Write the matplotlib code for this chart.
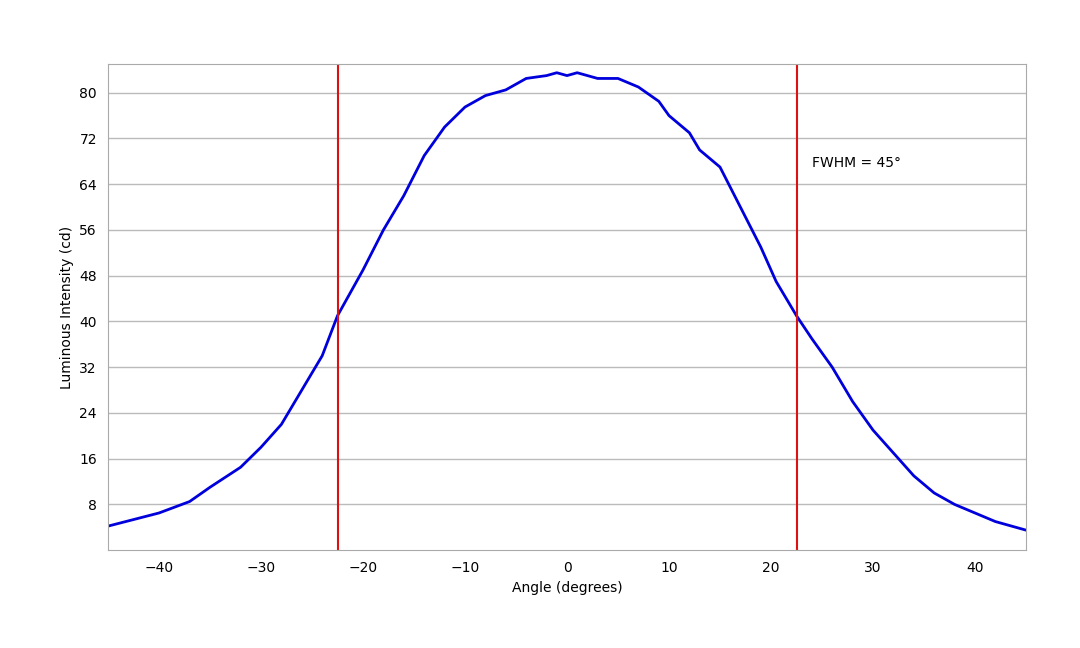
import matplotlib
matplotlib.use('Agg')
import numpy as np
import matplotlib.pyplot as plt

# angle (deg) vs luminous intensity (cd)
angle = [-45, -40, -37, -35, -32, -30, -28, -26, -24, -22.5, -20, -18, -16, -14, -12, -10,
         -8, -6, -4, -2, -1, 0, 1, 3, 5, 7, 9, 10, 12, 13, 15, 17, 19, 20.5, 22.5, 24,
         26, 28, 30, 32, 34, 36, 38, 40, 42, 45]
intensity = [4.2, 6.5, 8.5, 11, 14.5, 18, 22, 28, 34, 41, 49, 56, 62, 69, 74, 77.5,
             79.5, 80.5, 82.5, 83, 83.5, 83, 83.5, 82.5, 82.5, 81, 78.5, 76, 73, 70, 67, 60, 53, 47, 41, 37,
             32, 26, 21, 17, 13, 10, 8, 6.5, 5, 3.5]
fwhm_left, fwhm_right = -22.5, 22.5

fig = plt.figure(figsize=(10.8, 6.48), dpi=100)
ax = fig.add_axes([0.1, 0.151, 0.85, 0.75])
ax.plot(angle, intensity, color='#0000dd', lw=2)
ax.axvline(fwhm_left, color='#dd1111', lw=1.5)
ax.axvline(fwhm_right, color='#dd1111', lw=1.5)
ax.text(24, 67, 'FWHM = 45°', fontsize=10)

ax.set_xlim(-45, 45)
ax.set_ylim(0, 85)
ax.set_xticks(np.arange(-40, 41, 10))
ax.set_yticks(np.arange(8, 81, 8))
ax.grid(axis='y', color='#bbbbbb', lw=1)
ax.set_axisbelow(True)
for s in ax.spines.values():
    s.set_color('#aaaaaa')
ax.tick_params(length=0, labelsize=10, pad=8)
ax.set_xlabel('Angle (degrees)', fontsize=10)
ax.set_ylabel('Luminous Intensity (cd)', fontsize=10)
fig.savefig('out.png')
